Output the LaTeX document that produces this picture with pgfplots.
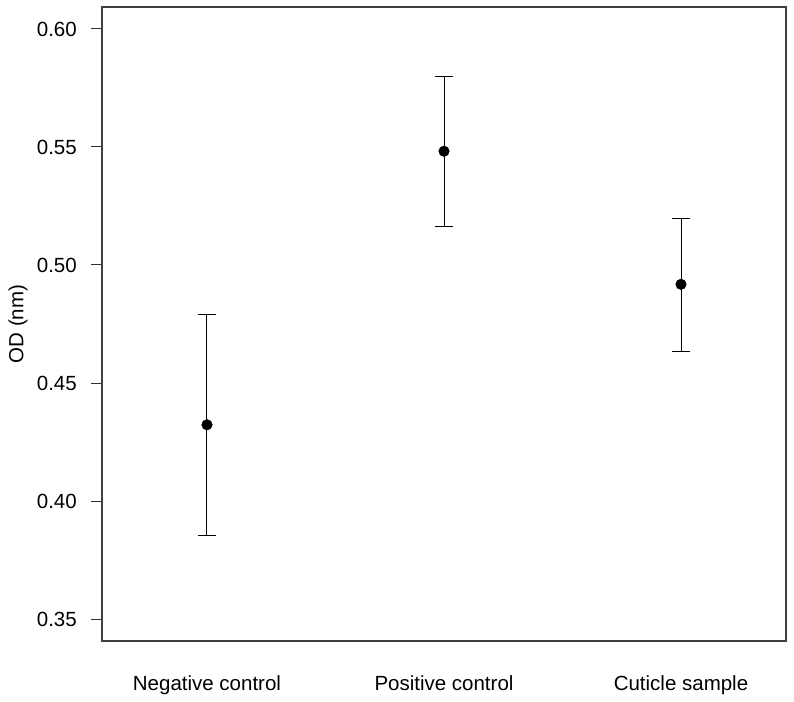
\documentclass[border=0pt]{standalone}
\usepackage{fontspec}
\setmainfont{Liberation Sans}
\usepackage{pgfplots}
\pgfplotsset{compat=1.18}
\begin{document}
\begin{tikzpicture}[x=1pt,y=1pt]
\path[use as bounding box] (0,0) rectangle (794,701);
\begin{axis}[
  at={(102pt,60pt)}, anchor=south west,
  scale only axis, width=684pt, height=634pt,
  xmin=0.557, xmax=3.443,
  ymin=0.3407, ymax=0.6093,
  axis line style={line width=1.2pt, draw=black!75},
  tick label style={font=\fontsize{20.5}{24}\selectfont},
  label style={font=\fontsize{20.5}{24}\selectfont},
  /pgf/number format/assume math mode=true,
  xtick={1,2,3},
  xticklabels={Negative control, Positive control, Cuticle sample},
  xtick style={draw=none},
  xticklabel style={anchor=base, yshift=-38pt, inner sep=0pt},
  ytick={0.35,0.40,0.45,0.50,0.55,0.60},
  yticklabels={0.35,0.40,0.45,0.50,0.55,0.60},
  ytick pos=left,
  tick align=outside,
  major tick length=11pt,
  ytick style={line width=1pt, draw=black!80},
  yticklabel style={anchor=east, inner sep=0pt, xshift=-14pt},
  ylabel={OD (nm)},
  ylabel style={at={(axis description cs:0,0.5)}, anchor=center, yshift=84pt, inner sep=0pt},
  clip=false,
]
\addplot[only marks, mark=*, mark size=5.3pt, black,
  error bars/.cd, y dir=both, y explicit,
  error bar style={line width=1pt, black},
  error mark options={rotate=90, mark size=9pt, line width=1pt, black}]
  table[x=x, y=y, y error plus=ep, y error minus=em] {
  x y ep em
  1 0.4323 0.0467 0.0471
  2 0.5482 0.0318 0.0318
  3 0.4918 0.0280 0.0285
};
\end{axis}
\end{tikzpicture}
\end{document}
